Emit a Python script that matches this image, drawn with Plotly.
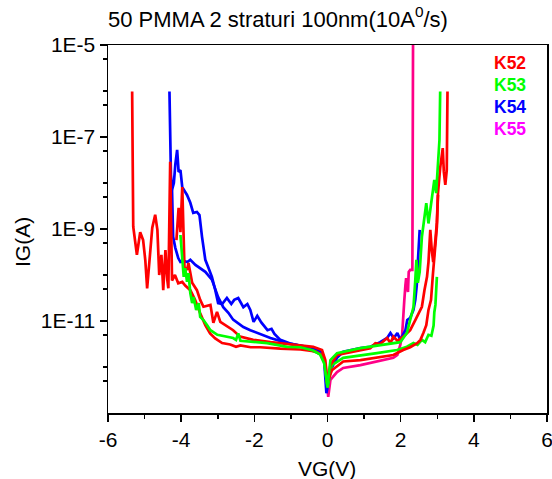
import plotly.graph_objects as go

# ---------------- data (VG in V, IG in A) ----------------
k52a_v = [-5.34, -5.31, -5.21, -5.12, -5.04, -4.98, -4.93, -4.79, -4.71, -4.65, -4.60, -4.54, -4.49, -4.43,
          -4.38, -4.35, -4.30, -4.25, -4.17, -4.08, -3.97, -3.89, -3.75, -3.62, -3.48, -3.34, -3.21, -3.07,
          -2.88, -2.66, -2.50, -2.38, -2.10, -1.84, -1.29, -0.74, -0.33, -0.14, -0.06, -0.01,
          0.12, 0.26, 0.43, 0.90, 1.35, 1.80, 2.07, 2.26, 2.45, 2.54, 2.62, 2.70, 2.76, 2.83, 2.88, 2.92,
          2.95, 2.99, 3.02]
k52a_i = [9.77e-7, 1.12e-9, 2.75e-10, 8.51e-10, 5.75e-10, 2.09e-10, 5.13e-11, 1.07e-9, 2.04e-9, 9.55e-10,
          1.0e-10, 2.75e-10, 4.68e-11, 3.47e-10, 7.94e-11, 5.13e-11, 2.88e-8, 7.59e-11, 1.0e-10, 6.61e-11,
          7.08e-11, 5.89e-11, 4.68e-11, 2.88e-11, 1.48e-11, 8.13e-12, 5.37e-12, 4.17e-12, 3.31e-12, 3.09e-12,
          2.75e-12, 2.95e-12, 2.69e-12, 2.69e-12, 2.51e-12, 2.40e-12, 2.19e-12, 1.78e-12, 1.10e-12, 4.47e-13,
          8.51e-13, 1.05e-12, 1.32e-12, 1.41e-12, 1.58e-12, 1.82e-12, 2.34e-12, 2.69e-12, 3.31e-12, 3.89e-12,
          5.50e-12, 8.13e-12, 1.74e-11, 2.88e-11, 1.0e-10, 2.34e-10, 5.01e-10, 1.12e-9, 5.50e-9]

k52b_v = [-4.13, -4.07, -4.02, -3.97, -3.91, -3.84, -3.80, -3.70, -3.57, -3.48, -3.39, -3.20, -3.12, -3.02,
          -2.93, -2.75, -2.58, -2.39, -2.03, -1.56, -1.02, -0.61, -0.39, -0.15, -0.06, 0.0,
          0.08, 0.26, 0.90, 1.17, 1.31, 1.44, 1.63, 1.72, 1.80, 1.91, 2.07, 2.26, 2.40, 2.49, 2.58, 2.65,
          2.72, 2.76, 2.81, 2.85, 2.89, 2.95, 2.99, 3.02, 3.08, 3.15, 3.18, 3.22, 3.26, 3.28]
k52b_i = [5.75e-10, 2.88e-9, 8.51e-10, 8.13e-9, 1.48e-10, 1.29e-10, 1.82e-10, 6.76e-11, 4.68e-11, 2.88e-11,
          2.04e-11, 2.24e-11, 9.12e-12, 1.58e-11, 9.55e-12, 7.59e-12, 6.31e-12, 4.57e-12, 3.89e-12, 3.47e-12,
          3.16e-12, 2.88e-12, 2.75e-12, 2.34e-12, 1.41e-12, 4.47e-13,
          1.10e-12, 1.82e-12, 2.34e-12, 2.57e-12, 3.31e-12, 3.16e-12, 4.27e-12, 3.31e-12, 4.57e-12, 3.72e-12,
          4.57e-12, 6.31e-12, 1.05e-11, 1.48e-11, 2.04e-11, 4.68e-11, 9.12e-11, 1.91e-10, 9.55e-10, 3.47e-10,
          1.91e-10, 5.75e-10, 1.41e-9, 6.03e-9, 2.14e-8, 5.75e-8, 1.74e-8, 9.12e-9, 1.91e-8, 9.77e-7]

k53a_v = [-4.02, -3.98, -3.93, -3.89, -3.84, -3.80, -3.75, -3.70, -3.66, -3.59, -3.52, -3.48, -3.39, -3.29,
          -3.20, -3.01, -2.79, -2.58, -2.50, -2.44, -2.38, -2.11, -1.65, -1.10, -0.74, -0.39, -0.20, -0.09,
          0.0, 0.08, 0.26, 0.90, 1.80, 1.99, 2.17, 2.26, 2.35, 2.40, 2.43, 2.47, 2.52, 2.58, 2.65, 2.70,
          2.76, 2.81, 2.88, 2.92, 2.97, 3.02, 3.06, 3.08]
k53a_i = [7.41e-10, 2.51e-10, 9.12e-11, 1.41e-10, 7.08e-11, 1.10e-10, 4.07e-11, 2.45e-11, 3.31e-11, 1.74e-11,
          2.45e-11, 1.23e-11, 1.05e-11, 8.13e-12, 6.31e-12, 5.01e-12, 4.57e-12, 4.27e-12, 3.89e-12, 5.37e-12,
          3.72e-12, 3.55e-12, 3.31e-12, 2.75e-12, 2.69e-12, 2.29e-12, 1.86e-12, 1.20e-12,
          3.72e-13, 1.41e-12, 2.00e-12, 2.57e-12, 3.31e-12, 3.47e-12, 5.50e-12, 1.05e-11, 2.00e-11, 7.76e-11,
          2.14e-10, 6.76e-11, 1.17e-10, 6.76e-10, 1.58e-9, 3.63e-9, 1.32e-9, 2.57e-9, 7.08e-9, 1.17e-8,
          6.03e-9, 2.24e-8, 8.51e-8, 9.77e-7]

k53b_v = [-0.50, -0.20, -0.08, 0.0, 0.12, 0.43, 1.35, 1.90, 2.17, 2.35, 2.46, 2.58, 2.67, 2.76, 2.84,
          2.90, 2.92, 2.95, 2.99]
k53b_i = [2.40e-12, 1.91e-12, 1.26e-12, 3.55e-13, 1.10e-12, 1.58e-12, 2.00e-12, 2.34e-12, 2.75e-12, 3.31e-12,
          3.02e-12, 3.89e-12, 3.47e-12, 5.01e-12, 4.79e-12, 7.94e-12, 1.55e-11, 2.24e-11, 9.12e-11]

k54a_v = [-4.32, -4.28, -4.25, -4.20, -4.16, -4.11, -4.07, -4.02, -3.97, -3.84, -3.75, -3.67, -3.57, -3.50,
          -3.43, -3.34, -3.26, -3.16, -3.07, -2.99, -2.88, -2.75, -2.63, -2.55, -2.44, -2.30, -2.19, -2.11,
          -2.02, -1.92, -1.81, -1.72, -1.64, -1.53, -1.45, -1.29, -1.02, -0.74, -0.39, -0.17, -0.09, -0.03,
          0.08, 0.26, 0.43, 0.90, 1.17, 1.44, 1.63, 1.72, 1.81, 1.91, 1.99, 2.13, 2.18, 2.26, 2.35, 2.40,
          2.44, 2.47, 2.52]
k54a_i = [9.77e-7, 1.51e-8, 7.08e-9, 1.0e-8, 2.51e-8, 5.25e-8, 1.74e-8, 1.91e-8, 8.13e-9, 5.50e-9, 3.72e-9,
          2.24e-9, 2.34e-9, 2.00e-9, 6.76e-10, 2.14e-10, 1.48e-10, 9.12e-11, 4.79e-11, 2.45e-11, 2.34e-11,
          3.16e-11, 2.34e-11, 2.88e-11, 3.16e-11, 2.00e-11, 2.34e-11, 1.74e-11, 9.55e-12, 1.29e-11, 9.33e-12,
          7.41e-12, 6.31e-12, 6.76e-12, 5.25e-12, 3.89e-12, 3.24e-12, 2.88e-12, 2.51e-12, 2.04e-12, 1.29e-12,
          2.69e-13, 8.51e-13, 1.58e-12, 2.14e-12, 2.57e-12, 2.75e-12, 3.47e-12, 4.27e-12, 5.50e-12, 4.27e-12,
          5.50e-12, 3.89e-12, 6.31e-12, 1.05e-11, 1.17e-11, 1.74e-11, 2.88e-11, 6.03e-11, 1.91e-10, 9.55e-10]

k54b_v = [-4.25, -4.22, -4.16, -4.08, -4.02, -3.91, -3.83, -3.75, -3.61, -3.48, -3.34, -3.16, -3.07, -2.99,
          -2.85, -2.71, -2.58, -2.30, -2.11, -1.93, -1.56, -1.10, -0.74, -0.33, -0.14, -0.06, -0.02]
k54b_i = [7.08e-9, 6.76e-10, 3.89e-10, 2.34e-10, 1.91e-10, 2.00e-10, 1.91e-10, 2.14e-10, 1.66e-10, 1.41e-10,
          1.17e-10, 7.94e-11, 4.79e-11, 3.31e-11, 2.00e-11, 1.51e-11, 1.07e-11, 7.41e-12, 6.31e-12, 5.50e-12,
          4.27e-12, 3.31e-12, 2.88e-12, 2.51e-12, 2.04e-12, 1.12e-12, 3.16e-13]

k55_v = [-0.10, -0.05, 0.02, 0.08, 0.26, 0.43, 0.90, 1.35, 1.80, 1.91, 1.99, 2.04, 2.07, 2.10,
         2.13, 2.15, 2.20, 2.22, 2.26, 2.32, 2.34]
k55_i = [1.41e-12, 1.0e-12, 2.24e-13, 5.25e-13, 7.76e-13, 9.55e-13, 1.10e-12, 1.32e-12,
         1.58e-12, 1.82e-12, 3.02e-12, 5.01e-12, 1.74e-11, 2.88e-11, 6.03e-11, 8.51e-11, 4.27e-11, 1.17e-10,
         1.29e-10, 1.29e-10, 3.55e-5]

legend_names = ["K52", "K53", "K54", "K55"]
legend_colors = ["#FF0000", "#00FF00", "#0000FF", "#FF00FF"]

x_tick_vals = [-6, -4, -2, 0, 2, 4, 6]
x_tick_text = ["-6", "-4", "-2", "0", "2", "4", "6"]
x_minor_vals = [-5, -3, -1, 1, 3, 5]
y_tick_vals = [1e-5, 1e-7, 1e-9, 1e-11]
y_tick_text = ["1E-5", "1E-7", "1E-9", "1E-11"]
y_minor_vals = [5e-6, 1e-6, 5e-7, 5e-8, 1e-8, 5e-9, 5e-10, 1e-10, 5e-11, 5e-12, 1e-12, 5e-13]

title_text = "50 PMMA 2 straturi 100nm(10A<sup>0</sup>/s)"
FONT = "Arial, Liberation Sans, sans-serif"

W, H = 552, 479
ML, MR, MT, MB = 108, 5, 45, 66
plot_w = W - ML - MR
plot_h = H - MT - MB
plot_bottom = H - MB

# ---------------- figure ----------------
fig = go.Figure()
traces = [
    (k55_v, k55_i, "#FF0088"),
    (k54b_v, k54b_i, "#0000FF"),
    (k54a_v, k54a_i, "#0000FF"),
    (k53b_v, k53b_i, "#00FF00"),
    (k52a_v, k52a_i, "#FF0000"),
    (k52b_v, k52b_i, "#FF0000"),
    (k53a_v, k53a_i, "#00FF00"),
]
for xv, yv, col in traces:
    fig.add_trace(go.Scatter(x=xv, y=yv, mode="lines",
                             line=dict(color=col, width=2.7), showlegend=False,
                             hoverinfo="skip"))

for k, (name, col) in enumerate(zip(legend_names, legend_colors)):
    fig.add_annotation(text="<b>%s</b>" % name, x=4.5, xref="x", xanchor="left",
                       y=0.950 - 0.0595 * k, yref="paper", yanchor="middle",
                       showarrow=False, font=dict(family=FONT, size=17.5, color=col))

fig.add_annotation(text="VG(V)", x=(327 - ML) / plot_w, xref="paper",
                   y=(plot_bottom - 468) / plot_h, yref="paper", yanchor="middle",
                   showarrow=False, font=dict(family=FONT, size=21, color="black"))
fig.add_annotation(text="IG(A)", x=(22 - ML) / plot_w, xref="paper",
                   y=(plot_bottom - 242) / plot_h, yref="paper", xanchor="center",
                   showarrow=False, textangle=-90, font=dict(family=FONT, size=21, color="black"))

fig.update_layout(
    width=W, height=H,
    margin=dict(l=ML, r=MR, t=MT, b=MB, autoexpand=False),
    paper_bgcolor="white", plot_bgcolor="white",
    font=dict(family=FONT, size=21, color="black"),
    title=dict(text=title_text, x=0, xref="paper", xanchor="left",
               y=1 - 19 / H, yref="container", yanchor="middle",
               font=dict(family=FONT, size=22, color="black")),
    showlegend=False,
)

fig.update_xaxes(range=[-6, 6], tickvals=x_tick_vals, ticktext=x_tick_text, ticks="outside",
                 ticklen=7, tickwidth=1.5, automargin=False, ticklabeloverflow="allow",
                 tickcolor="black", showline=True, linecolor="black", linewidth=1.5, mirror=True,
                 showgrid=False, zeroline=False, tickfont=dict(family=FONT, size=21),
                 minor=dict(tickvals=x_minor_vals, ticks="outside", ticklen=4, tickwidth=1.5,
                            tickcolor="black", showgrid=False))
fig.update_yaxes(type="log", range=[-13, -5], tickvals=y_tick_vals, ticktext=y_tick_text,
                 ticks="outside", ticklen=7, tickwidth=1.5, tickcolor="black", automargin=False,
                 ticklabeloverflow="allow",
                 showline=True, linecolor="black", linewidth=1.5, mirror=True,
                 showgrid=False, zeroline=False, tickfont=dict(family=FONT, size=21),
                 minor=dict(tickvals=y_minor_vals, ticks="outside", ticklen=4, tickwidth=1.5,
                            tickcolor="black", showgrid=False))

# remove the browser's default 8px body margin so the 552x479 figure fills the window exactly
fig.write_html("out.html", config={"displayModeBar": False, "staticPlot": True},
               post_script="document.body.style.margin='0px';document.body.style.overflow='hidden';")
